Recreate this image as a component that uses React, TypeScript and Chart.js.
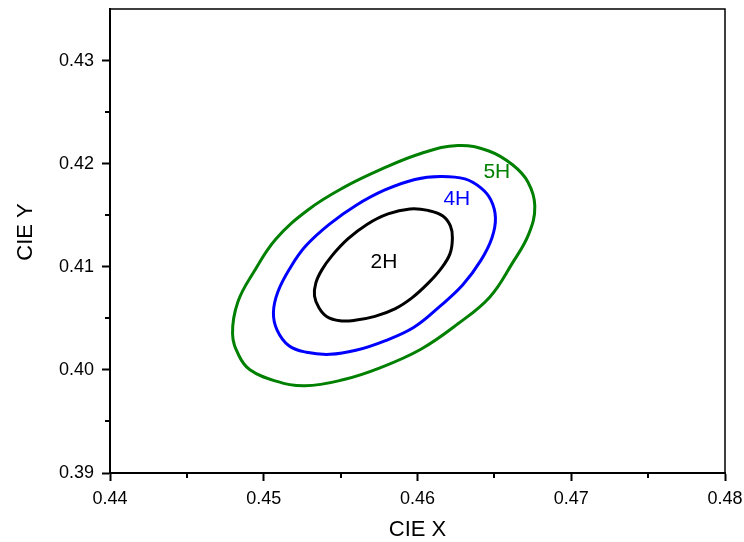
import { useEffect, useRef } from 'react';
import { Chart, registerables } from 'chart.js';

Chart.register(...registerables);

// Axis definitions
const X_TICKS = [0.44, 0.45, 0.46, 0.47, 0.48];
const Y_TICKS = [0.39, 0.4, 0.41, 0.42, 0.43];
const X_MINOR = [0.445, 0.455, 0.465, 0.475];
const Y_MINOR = [0.395, 0.405, 0.415, 0.425];
const X_MIN = 0.44;
const X_MAX = 0.48;
const Y_MIN = 0.39;
const Y_MAX = 0.435;
const X_TITLE = 'CIE X';
const Y_TITLE = 'CIE Y';

// Contour 2H (black), closed loop
const X_2H = [0.46227, 0.46211, 0.46152, 0.46068, 0.45964, 0.45853, 0.45723, 0.45593, 0.45495, 0.45411, 0.45359, 0.4533, 0.45339, 0.45378, 0.45443, 0.45547, 0.45671, 0.45808, 0.45951, 0.46068, 0.46165, 0.46214];
const Y_2H = [0.4128, 0.41125, 0.4098, 0.40839, 0.40699, 0.40592, 0.40519, 0.40481, 0.40476, 0.40515, 0.40602, 0.40718, 0.40844, 0.4097, 0.41106, 0.4127, 0.41411, 0.41513, 0.41561, 0.41547, 0.41493, 0.41396];

// Contour 4H (blue), closed loop
const X_4H = [0.46507, 0.46484, 0.46412, 0.46295, 0.46149, 0.45977, 0.45788, 0.45599, 0.4543, 0.45278, 0.45164, 0.45086, 0.45063, 0.45092, 0.4517, 0.45271, 0.4543, 0.45599, 0.45788, 0.45983, 0.46149, 0.46308, 0.46412, 0.46477];
const Y_4H = [0.41474, 0.4128, 0.41062, 0.40825, 0.40621, 0.40413, 0.40282, 0.4019, 0.40151, 0.40171, 0.40234, 0.40389, 0.40558, 0.40757, 0.40984, 0.41198, 0.41416, 0.41595, 0.41745, 0.41847, 0.41876, 0.41852, 0.41765, 0.41648];

// Contour 5H (green), closed loop
const X_5H = [0.46763, 0.46724, 0.46614, 0.46471, 0.46263, 0.46022, 0.45756, 0.45515, 0.45268, 0.45073, 0.4491, 0.44839, 0.44797, 0.44832, 0.44936, 0.45079, 0.45287, 0.45515, 0.45769, 0.46022, 0.46263, 0.46464, 0.4662, 0.46718];
const Y_5H = [0.4159, 0.41319, 0.41028, 0.40708, 0.40447, 0.402, 0.4002, 0.39904, 0.39846, 0.39894, 0.40001, 0.40137, 0.4035, 0.4066, 0.40951, 0.4127, 0.41551, 0.41765, 0.41949, 0.42099, 0.42176, 0.42123, 0.41987, 0.41823];

// Contour labels (anchored in data coordinates)
const LABEL_TEXT = ['2H', '4H', '5H'];
const LABEL_X = [0.45782, 0.46256, 0.46516];
const LABEL_Y = [0.41048, 0.41658, 0.4192];
const SERIES_COLORS = ['#000000', '#0000ff', '#008000'];

const FONT = '"Liberation Sans", Arial, Helvetica, sans-serif';

const toPoints = (xs: number[], ys: number[]) => xs.map((x, i) => ({ x, y: ys[i] }));

export default function App() {
  const ref = useRef<HTMLCanvasElement | null>(null);

  useEffect(() => {
    if (!ref.current) return;

    const closeLoops = {
      id: 'closeLoops',
      afterDatasetsUpdate(chart: any) {
        chart.data.datasets.forEach((_d: any, i: number) => {
          const line = chart.getDatasetMeta(i).dataset;
          if (line) {
            line._loop = true;
            line._fullLoop = true;
            line._pointsUpdated = false;
            delete line._segments;
            delete line._path;
          }
        });
      },
    };

    const decor = {
      id: 'decor',
      afterDraw(chart: any) {
        const ctx = chart.ctx;
        const { left, right, top, bottom } = chart.chartArea;
        const xs = chart.scales.x;
        const ys = chart.scales.y;
        ctx.save();
        // frame top/right
        ctx.strokeStyle = '#000';
        ctx.lineWidth = 1.5;
        ctx.beginPath();
        ctx.moveTo(left, top);
        ctx.lineTo(right, top);
        ctx.lineTo(right, bottom);
        ctx.stroke();
        // minor ticks
        ctx.lineWidth = 2;
        X_MINOR.forEach((v) => {
          const p = Math.round(xs.getPixelForValue(v));
          ctx.beginPath();
          ctx.moveTo(p, bottom);
          ctx.lineTo(p, bottom + 5);
          ctx.stroke();
        });
        Y_MINOR.forEach((v) => {
          const p = Math.round(ys.getPixelForValue(v));
          ctx.beginPath();
          ctx.moveTo(left, p);
          ctx.lineTo(left - 5, p);
          ctx.stroke();
        });
        // contour labels
        ctx.font = `21px ${FONT}`;
        ctx.textAlign = 'center';
        ctx.textBaseline = 'middle';
        LABEL_TEXT.forEach((t, i) => {
          ctx.fillStyle = SERIES_COLORS[i];
          ctx.fillText(t, xs.getPixelForValue(LABEL_X[i]), ys.getPixelForValue(LABEL_Y[i]));
        });
        // axis titles
        ctx.fillStyle = '#000';
        ctx.font = `22px ${FONT}`;
        ctx.textAlign = 'center';
        ctx.textBaseline = 'alphabetic';
        ctx.fillText(X_TITLE, (left + right) / 2, bottom + 63);
        ctx.translate(32, (top + bottom) / 2 - 9);
        ctx.rotate(-Math.PI / 2);
        ctx.fillText(Y_TITLE, 0, 0);
        ctx.restore();
      },
    };

    const zeroPad = (s: any) => {
      s.paddingLeft = 0;
      s.paddingRight = 0;
      s.paddingTop = 0;
      s.paddingBottom = 0;
    };

    const chart = new Chart(ref.current, {
      type: 'scatter',
      data: {
        datasets: [
          { label: LABEL_TEXT[0], data: toPoints(X_2H, Y_2H), borderColor: SERIES_COLORS[0] },
          { label: LABEL_TEXT[1], data: toPoints(X_4H, Y_4H), borderColor: SERIES_COLORS[1] },
          { label: LABEL_TEXT[2], data: toPoints(X_5H, Y_5H), borderColor: SERIES_COLORS[2] },
        ].map((d) => ({
          ...d,
          showLine: true,
          spanGaps: true,
          pointRadius: 0,
          borderWidth: 3,
          tension: 0.4,
          fill: false,
        })),
      },
      options: {
        responsive: false,
        animation: false,
        layout: { padding: { left: 0, top: 9, right: 19, bottom: 0 } },
        plugins: { legend: { display: false }, tooltip: { enabled: false } },
        scales: {
          x: {
            type: 'linear',
            min: X_MIN,
            max: X_MAX,
            afterBuildTicks: (s: any) => {
              s.ticks = X_TICKS.map((value) => ({ value }));
            },
            afterFit: (s: any) => {
              s.height = 69;
              zeroPad(s);
            },
            ticks: {
              color: '#000',
              padding: 7,
              font: { family: FONT, size: 18 },
              callback: (v: any) => Number(v).toFixed(2),
            },
            grid: { drawOnChartArea: false, drawTicks: true, tickLength: 8, tickWidth: 2, tickColor: '#000' },
            border: { display: true, color: '#000', width: 2 },
          },
          y: {
            type: 'linear',
            min: Y_MIN,
            max: Y_MAX,
            afterBuildTicks: (s: any) => {
              s.ticks = Y_TICKS.map((value) => ({ value }));
            },
            afterFit: (s: any) => {
              s.width = 110;
              zeroPad(s);
            },
            ticks: {
              color: '#000',
              padding: 8,
              font: { family: FONT, size: 18 },
              callback: (v: any) => Number(v).toFixed(2),
            },
            grid: { drawOnChartArea: false, drawTicks: true, tickLength: 8, tickWidth: 2, tickColor: '#000' },
            border: { display: true, color: '#000', width: 2 },
          },
        },
      },
      plugins: [closeLoops, decor],
    } as any);

    return () => chart.destroy();
  }, []);

  return (
    <div style={{ position: 'fixed', left: 0, top: 0, width: 744, height: 542, background: '#fff' }}>
      <canvas ref={ref} width={744} height={542} style={{ display: 'block' }} />
    </div>
  );
}
